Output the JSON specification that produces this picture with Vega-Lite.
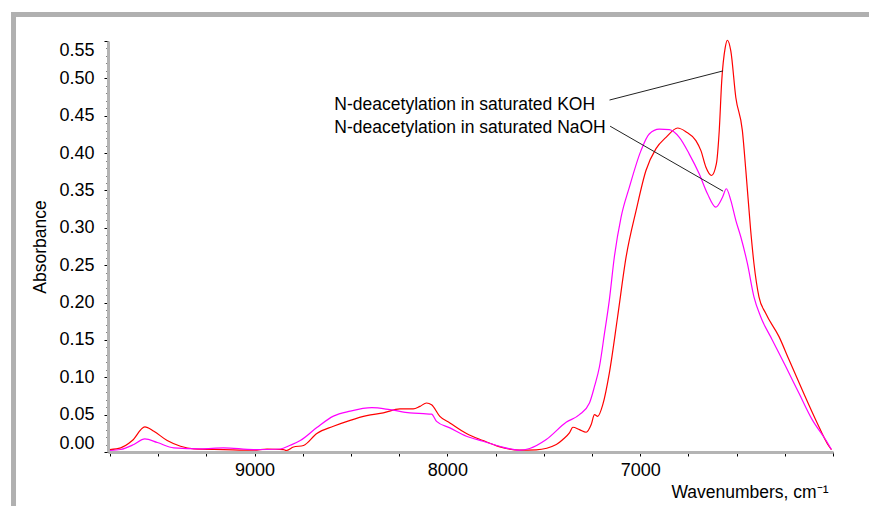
{
  "$schema": "https://vega.github.io/schema/vega-lite/v6.json",
  "width": 725,
  "height": 411,
  "autosize": {"type": "none"},
  "padding": {"left": 108, "top": 41, "right": 36, "bottom": 54},
  "background": "white",
  "config": {"view": {"stroke": null}, "font": "Liberation Sans"},
  "datasets": {
    "spectra": [
      {"series": "KOH", "wavenumber": 9750, "absorbance": 0.0033},
      {"series": "KOH", "wavenumber": 9694, "absorbance": 0.0056},
      {"series": "KOH", "wavenumber": 9634, "absorbance": 0.0153},
      {"series": "KOH", "wavenumber": 9569, "absorbance": 0.0336},
      {"series": "KOH", "wavenumber": 9522, "absorbance": 0.0277},
      {"series": "KOH", "wavenumber": 9453, "absorbance": 0.0153},
      {"series": "KOH", "wavenumber": 9384, "absorbance": 0.0077},
      {"series": "KOH", "wavenumber": 9315, "absorbance": 0.0043},
      {"series": "KOH", "wavenumber": 9161, "absorbance": 0.0033},
      {"series": "KOH", "wavenumber": 9006, "absorbance": 0.0024},
      {"series": "KOH", "wavenumber": 8935, "absorbance": 0.004},
      {"series": "KOH", "wavenumber": 8850, "absorbance": 0.0033},
      {"series": "KOH", "wavenumber": 8836, "absorbance": 0.002},
      {"series": "KOH", "wavenumber": 8798, "absorbance": 0.0067},
      {"series": "KOH", "wavenumber": 8746, "absorbance": 0.0087},
      {"series": "KOH", "wavenumber": 8677, "absorbance": 0.0247},
      {"series": "KOH", "wavenumber": 8591, "absorbance": 0.0344},
      {"series": "KOH", "wavenumber": 8504, "absorbance": 0.0424},
      {"series": "KOH", "wavenumber": 8418, "absorbance": 0.0487},
      {"series": "KOH", "wavenumber": 8332, "absorbance": 0.0523},
      {"series": "KOH", "wavenumber": 8246, "absorbance": 0.0576},
      {"series": "KOH", "wavenumber": 8177, "absorbance": 0.0576},
      {"series": "KOH", "wavenumber": 8142, "absorbance": 0.0611},
      {"series": "KOH", "wavenumber": 8108, "absorbance": 0.0656},
      {"series": "KOH", "wavenumber": 8082, "absorbance": 0.0633},
      {"series": "KOH", "wavenumber": 8039, "absorbance": 0.0477},
      {"series": "KOH", "wavenumber": 7987, "absorbance": 0.0389},
      {"series": "KOH", "wavenumber": 7901, "absorbance": 0.0247},
      {"series": "KOH", "wavenumber": 7815, "absorbance": 0.0153},
      {"series": "KOH", "wavenumber": 7732, "absorbance": 0.0072},
      {"series": "KOH", "wavenumber": 7625, "absorbance": 0.0024},
      {"series": "KOH", "wavenumber": 7539, "absorbance": 0.0029},
      {"series": "KOH", "wavenumber": 7435, "absorbance": 0.01},
      {"series": "KOH", "wavenumber": 7401, "absorbance": 0.0167},
      {"series": "KOH", "wavenumber": 7367, "absorbance": 0.0256},
      {"series": "KOH", "wavenumber": 7349, "absorbance": 0.0331},
      {"series": "KOH", "wavenumber": 7315, "absorbance": 0.03},
      {"series": "KOH", "wavenumber": 7280, "absorbance": 0.0264},
      {"series": "KOH", "wavenumber": 7254, "absorbance": 0.0367},
      {"series": "KOH", "wavenumber": 7237, "absorbance": 0.05},
      {"series": "KOH", "wavenumber": 7220, "absorbance": 0.0477},
      {"series": "KOH", "wavenumber": 7194, "absorbance": 0.0633},
      {"series": "KOH", "wavenumber": 7160, "absorbance": 0.1056},
      {"series": "KOH", "wavenumber": 7117, "absorbance": 0.181},
      {"series": "KOH", "wavenumber": 7073, "absorbance": 0.261},
      {"series": "KOH", "wavenumber": 7021, "absorbance": 0.3233},
      {"series": "KOH", "wavenumber": 6970, "absorbance": 0.3767},
      {"series": "KOH", "wavenumber": 6918, "absorbance": 0.406},
      {"series": "KOH", "wavenumber": 6866, "absorbance": 0.421},
      {"series": "KOH", "wavenumber": 6806, "absorbance": 0.4336},
      {"series": "KOH", "wavenumber": 6763, "absorbance": 0.4287},
      {"series": "KOH", "wavenumber": 6711, "absorbance": 0.4167},
      {"series": "KOH", "wavenumber": 6685, "absorbance": 0.4033},
      {"series": "KOH", "wavenumber": 6659, "absorbance": 0.381},
      {"series": "KOH", "wavenumber": 6630, "absorbance": 0.37},
      {"series": "KOH", "wavenumber": 6605, "absorbance": 0.3856},
      {"series": "KOH", "wavenumber": 6590, "absorbance": 0.43},
      {"series": "KOH", "wavenumber": 6577, "absorbance": 0.4967},
      {"series": "KOH", "wavenumber": 6559, "absorbance": 0.541},
      {"series": "KOH", "wavenumber": 6548, "absorbance": 0.551},
      {"series": "KOH", "wavenumber": 6530, "absorbance": 0.5367},
      {"series": "KOH", "wavenumber": 6504, "absorbance": 0.4744},
      {"series": "KOH", "wavenumber": 6470, "absorbance": 0.43},
      {"series": "KOH", "wavenumber": 6452, "absorbance": 0.3767},
      {"series": "KOH", "wavenumber": 6427, "absorbance": 0.2967},
      {"series": "KOH", "wavenumber": 6410, "absorbance": 0.2523},
      {"series": "KOH", "wavenumber": 6384, "absorbance": 0.2077},
      {"series": "KOH", "wavenumber": 6349, "absorbance": 0.1856},
      {"series": "KOH", "wavenumber": 6280, "absorbance": 0.1544},
      {"series": "KOH", "wavenumber": 6228, "absorbance": 0.1233},
      {"series": "KOH", "wavenumber": 6160, "absorbance": 0.0833},
      {"series": "KOH", "wavenumber": 6090, "absorbance": 0.0433},
      {"series": "KOH", "wavenumber": 6021, "absorbance": 0.0077},
      {"series": "KOH", "wavenumber": 6008, "absorbance": 0.0033},
      {"series": "NaOH", "wavenumber": 9750, "absorbance": 0.002},
      {"series": "NaOH", "wavenumber": 9694, "absorbance": 0.0033},
      {"series": "NaOH", "wavenumber": 9626, "absorbance": 0.01},
      {"series": "NaOH", "wavenumber": 9569, "absorbance": 0.0176},
      {"series": "NaOH", "wavenumber": 9504, "absorbance": 0.0127},
      {"series": "NaOH", "wavenumber": 9419, "absorbance": 0.0056},
      {"series": "NaOH", "wavenumber": 9280, "absorbance": 0.0043},
      {"series": "NaOH", "wavenumber": 9160, "absorbance": 0.0056},
      {"series": "NaOH", "wavenumber": 9005, "absorbance": 0.0033},
      {"series": "NaOH", "wavenumber": 8867, "absorbance": 0.004},
      {"series": "NaOH", "wavenumber": 8815, "absorbance": 0.009},
      {"series": "NaOH", "wavenumber": 8763, "absorbance": 0.0153},
      {"series": "NaOH", "wavenumber": 8677, "absorbance": 0.0327},
      {"series": "NaOH", "wavenumber": 8591, "absorbance": 0.048},
      {"series": "NaOH", "wavenumber": 8504, "absorbance": 0.0547},
      {"series": "NaOH", "wavenumber": 8392, "absorbance": 0.0593},
      {"series": "NaOH", "wavenumber": 8298, "absorbance": 0.0567},
      {"series": "NaOH", "wavenumber": 8194, "absorbance": 0.0523},
      {"series": "NaOH", "wavenumber": 8125, "absorbance": 0.0513},
      {"series": "NaOH", "wavenumber": 8082, "absorbance": 0.0507},
      {"series": "NaOH", "wavenumber": 8056, "absorbance": 0.041},
      {"series": "NaOH", "wavenumber": 7987, "absorbance": 0.0323},
      {"series": "NaOH", "wavenumber": 7901, "absorbance": 0.0211},
      {"series": "NaOH", "wavenumber": 7815, "absorbance": 0.0144},
      {"series": "NaOH", "wavenumber": 7729, "absorbance": 0.0077},
      {"series": "NaOH", "wavenumber": 7625, "absorbance": 0.0024},
      {"series": "NaOH", "wavenumber": 7573, "absorbance": 0.0047},
      {"series": "NaOH", "wavenumber": 7487, "absorbance": 0.0167},
      {"series": "NaOH", "wavenumber": 7384, "absorbance": 0.0397},
      {"series": "NaOH", "wavenumber": 7315, "absorbance": 0.05},
      {"series": "NaOH", "wavenumber": 7263, "absorbance": 0.0656},
      {"series": "NaOH", "wavenumber": 7237, "absorbance": 0.0877},
      {"series": "NaOH", "wavenumber": 7211, "absorbance": 0.1144},
      {"series": "NaOH", "wavenumber": 7185, "absorbance": 0.159},
      {"series": "NaOH", "wavenumber": 7160, "absorbance": 0.2033},
      {"series": "NaOH", "wavenumber": 7134, "absorbance": 0.261},
      {"series": "NaOH", "wavenumber": 7099, "absorbance": 0.3144},
      {"series": "NaOH", "wavenumber": 7056, "absorbance": 0.3544},
      {"series": "NaOH", "wavenumber": 6996, "absorbance": 0.4033},
      {"series": "NaOH", "wavenumber": 6953, "absorbance": 0.4256},
      {"series": "NaOH", "wavenumber": 6901, "absorbance": 0.432},
      {"series": "NaOH", "wavenumber": 6849, "absorbance": 0.4313},
      {"series": "NaOH", "wavenumber": 6797, "absorbance": 0.421},
      {"series": "NaOH", "wavenumber": 6746, "absorbance": 0.399},
      {"series": "NaOH", "wavenumber": 6694, "absorbance": 0.3723},
      {"series": "NaOH", "wavenumber": 6651, "absorbance": 0.3456},
      {"series": "NaOH", "wavenumber": 6608, "absorbance": 0.3277},
      {"series": "NaOH", "wavenumber": 6573, "absorbance": 0.341},
      {"series": "NaOH", "wavenumber": 6553, "absorbance": 0.3523},
      {"series": "NaOH", "wavenumber": 6530, "absorbance": 0.3367},
      {"series": "NaOH", "wavenumber": 6504, "absorbance": 0.31},
      {"series": "NaOH", "wavenumber": 6478, "absorbance": 0.2877},
      {"series": "NaOH", "wavenumber": 6444, "absorbance": 0.2523},
      {"series": "NaOH", "wavenumber": 6410, "absorbance": 0.2077},
      {"series": "NaOH", "wavenumber": 6375, "absorbance": 0.181},
      {"series": "NaOH", "wavenumber": 6315, "absorbance": 0.15},
      {"series": "NaOH", "wavenumber": 6245, "absorbance": 0.1144},
      {"series": "NaOH", "wavenumber": 6177, "absorbance": 0.0789},
      {"series": "NaOH", "wavenumber": 6108, "absorbance": 0.0433},
      {"series": "NaOH", "wavenumber": 6039, "absorbance": 0.0167},
      {"series": "NaOH", "wavenumber": 6008, "absorbance": 0.0033}
    ],
    "leaders": [
      {"series": "KOH", "wavenumber": 7159, "absorbance": 0.471},
      {"series": "KOH", "wavenumber": 6570, "absorbance": 0.51},
      {"series": "NaOH", "wavenumber": 7156, "absorbance": 0.436},
      {"series": "NaOH", "wavenumber": 6570, "absorbance": 0.349}
    ],
    "labels": [
      {"label": "N-deacetylation in saturated KOH", "wavenumber": 8586, "absorbance": 0.465},
      {"label": "N-deacetylation in saturated NaOH", "wavenumber": 8586, "absorbance": 0.434}
    ]
  },
  "layer": [
    {
      "data": {"name": "spectra"},
      "mark": {"type": "line", "strokeWidth": 1.2, "interpolate": "monotone"},
      "encoding": {
        "x": {
          "field": "wavenumber",
          "type": "quantitative",
          "scale": {"domain": [6000, 9760], "reverse": true, "nice": false, "zero": false},
          "axis": {
            "values": [6000, 6250, 6500, 6750, 7000, 7250, 7500, 7750, 8000, 8250, 8500, 8750, 9000, 9250, 9500, 9750],
            "tickCount": 100,
            "format": "d",
            "labelExpr": "datum.value % 1000 == 0 && datum.value != 6000 ? datum.label : ''",
            "labelOverlap": false,
            "grid": false,
            "domainColor": "#b4b4b4",
            "domainWidth": 3,
            "tickColor": "black",
            "tickSize": 4,
            "labelFont": "Liberation Sans",
            "labelFontSize": 18,
            "labelColor": "black",
            "labelPadding": 5,
            "title": "Wavenumbers, cm⁻¹",
            "titleFont": "Liberation Sans",
            "titleFontSize": 17.5,
            "titleFontWeight": "normal",
            "titleColor": "black",
            "titleAnchor": "start",
            "titleAlign": "right",
            "titleX": 720,
            "titlePadding": 4
          }
        },
        "y": {
          "field": "absorbance",
          "type": "quantitative",
          "scale": {"domain": [0, 0.55], "nice": false},
          "axis": {
            "values": [0, 0.01, 0.02, 0.03, 0.04, 0.05, 0.06, 0.07, 0.08, 0.09, 0.1, 0.11, 0.12, 0.13, 0.14, 0.15, 0.16, 0.17, 0.18, 0.19, 0.2, 0.21, 0.22, 0.23, 0.24, 0.25, 0.26, 0.27, 0.28, 0.29, 0.3, 0.31, 0.32, 0.33, 0.34, 0.35, 0.36, 0.37, 0.38, 0.39, 0.4, 0.41, 0.42, 0.43, 0.44, 0.45, 0.46, 0.47, 0.48, 0.49, 0.5, 0.51, 0.52, 0.53, 0.54, 0.55],
            "tickCount": 100,
            "labelExpr": "round(datum.value * 100) % 5 == 0 ? format(datum.value, '.2f') : ''",
            "labelOverlap": false,
            "tickSize": {"condition": {"test": "round(datum.value * 100) % 5 == 0", "value": 4}, "value": 2},
            "grid": false,
            "domainColor": "#b4b4b4",
            "domainWidth": 3,
            "tickColor": "black",
            "labelFont": "Liberation Sans",
            "labelFontSize": 18,
            "labelColor": "black",
            "labelPadding": 10,
            "labelFlush": true,
            "title": "Absorbance",
            "titleFont": "Liberation Sans",
            "titleFontSize": 17.5,
            "titleFontWeight": "normal",
            "titleColor": "black",
            "titlePadding": 9
          }
        },
        "color": {
          "field": "series",
          "type": "nominal",
          "scale": {"domain": ["KOH", "NaOH"], "range": ["#ff0000", "#ff00ff"]},
          "legend": null
        }
      }
    },
    {
      "data": {"name": "leaders"},
      "mark": {"type": "line", "color": "#222222", "strokeWidth": 1},
      "encoding": {
        "x": {"field": "wavenumber", "type": "quantitative"},
        "y": {"field": "absorbance", "type": "quantitative"},
        "detail": {"field": "series"}
      }
    },
    {
      "data": {"name": "labels"},
      "mark": {"type": "text", "align": "left", "baseline": "middle", "font": "Liberation Sans", "fontSize": 17.5, "color": "black"},
      "encoding": {
        "x": {"field": "wavenumber", "type": "quantitative"},
        "y": {"field": "absorbance", "type": "quantitative"},
        "text": {"field": "label"}
      }
    },
    {
      "data": {"values": [{}]},
      "mark": {"type": "rule", "color": "#b0b0b0", "strokeWidth": 5, "clip": false},
      "encoding": {
        "x": {"datum": 10250, "type": "quantitative"},
        "y": {"datum": 0.5853, "type": "quantitative"},
        "x2": {"datum": 5800},
        "y2": {"datum": 0.5853}
      }
    },
    {
      "data": {"values": [{}]},
      "mark": {"type": "rule", "color": "#b0b0b0", "strokeWidth": 5, "clip": false},
      "encoding": {
        "x": {"datum": 10250, "type": "quantitative"},
        "y": {"datum": 0.5887, "type": "quantitative"},
        "x2": {"datum": 10250},
        "y2": {"datum": -0.08}
      }
    }
  ]
}
